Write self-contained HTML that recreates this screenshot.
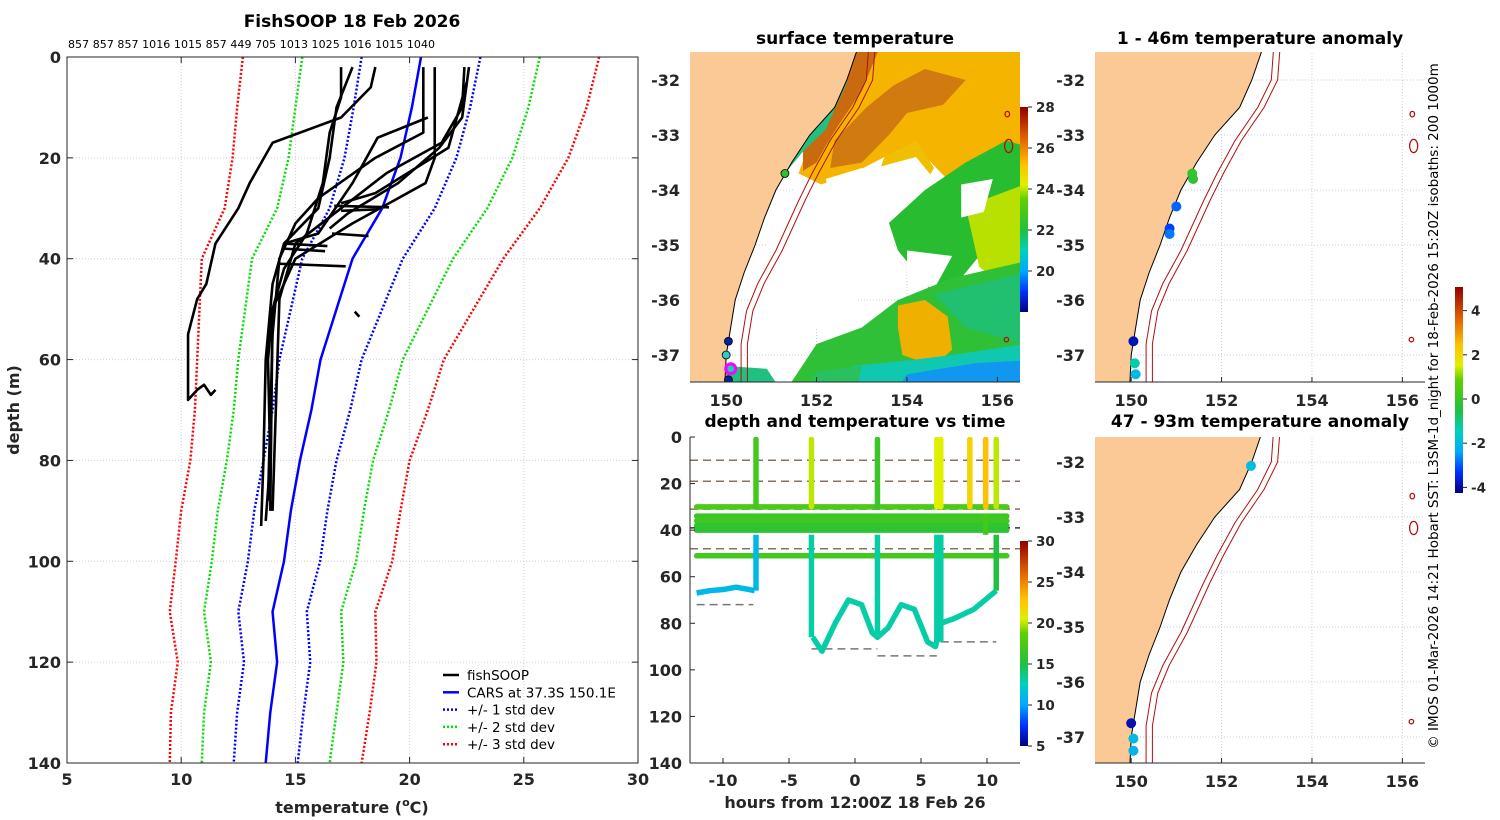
<!DOCTYPE html>
<html><head><meta charset="utf-8">
<style>
html,body{margin:0;padding:0;background:#fff;}
svg{display:block;font-family:"DejaVu Sans","Liberation Sans",sans-serif;}
.tk{font-size:16px;font-weight:bold;fill:#262626;}
.tt{font-size:17px;font-weight:bold;fill:#000;}
</style></head>
<body>
<svg id="fig" width="1500" height="820" viewBox="0 0 1500 820" xmlns="http://www.w3.org/2000/svg">
<defs>
<clipPath id="clipP"><rect x="67" y="57" width="571" height="706"/></clipPath>
<clipPath id="clipM1"><rect x="690" y="52" width="330" height="330"/></clipPath>
<clipPath id="clipM2"><rect x="1095" y="52" width="330" height="330"/></clipPath>
<clipPath id="clipM3"><rect x="1095" y="437" width="330" height="326"/></clipPath>
<clipPath id="clipT"><rect x="690" y="437" width="330" height="326"/></clipPath>
<linearGradient id="jetV" x1="0" y1="1" x2="0" y2="0">
<stop offset="0" stop-color="#00007f"/><stop offset="0.1" stop-color="#0030ff"/><stop offset="0.2" stop-color="#00a8ff"/><stop offset="0.3" stop-color="#00d0c0"/><stop offset="0.4" stop-color="#20c040"/><stop offset="0.55" stop-color="#60d000"/><stop offset="0.62" stop-color="#e0f000"/><stop offset="0.72" stop-color="#ffc000"/><stop offset="0.85" stop-color="#e06000"/><stop offset="1" stop-color="#900000"/>
</linearGradient>
</defs>
<g id="g"></g>
</svg>
<script>
// ===== profile chart data =====
const cDepth=[0,10,20,30,40,50,60,70,80,90,100,110,120,130,140];
const cTemp=[20.5,20.1,19.6,18.8,17.5,16.8,16.1,15.7,15.2,14.8,14.5,14.0,14.2,13.9,13.7];
const cSd=[2.6,2.55,2.45,2.3,2.2,2.0,1.8,1.7,1.6,1.6,1.58,1.5,1.45,1.45,1.4];
const xTicks=[5,10,15,20,25,30];
const yTicks=[0,20,40,60,80,100,120,140];
const topLabels="857 857 857 1016 1015 857 449 705 1013 1025 1016 1015 1040";
const profiles=[
 [[18.5,2],[18.3,6],[17.0,12],[14.0,17],[13.0,25],[12.5,30],[11.5,37],[11.1,45],[10.7,48],[10.3,55],[10.3,68],[10.7,66],[11.0,65],[11.3,67],[11.5,66]],
 [[17.0,2],[17.0,8],[16.5,15],[16.2,25],[15.5,35],[14.5,42],[14.0,50],[13.8,60],[13.9,80],[13.7,92]],
 [[17.5,2],[16.8,10],[16.5,20],[16.0,30],[14.5,37],[14.0,45],[13.7,60],[13.6,80],[13.5,93]],
 [[20.6,2],[20.6,15],[18.5,20],[16.0,28],[15.0,33],[14.3,40],[14.0,55],[13.8,88]],
 [[21.1,2],[21.1,20],[20.7,25],[17.5,33],[15.0,40],[14.0,50],[13.9,90]],
 [[22.4,2],[22.3,10],[21.4,17],[19.0,23],[17.0,30],[15.0,37],[14.3,48],[14.0,90]],
 [[22.6,2],[22.3,12],[21.3,18],[19.5,25],[17.3,31],[16.5,34]],
 [[22.5,5],[21.7,18],[18.5,27],[17.0,29]],
 [[20.8,12],[18.6,16],[17.5,25],[16.0,35],[14.5,37]],
 [[16.7,29.5],[19.1,29.8]],[[17.0,30.5],[18.6,30.2]],[[16.6,35],[18.2,35.5]],[[14.5,37],[16.4,37.5]],[[14.5,38],[16.3,38.5]],[[14.3,41],[17.2,41.5]],[[17.6,50.5],[17.8,51.5]]
];
// ===== time-depth chart data =====
const tXT=[-10,-5,0,5,10], tYT=[0,20,40,60,80,100,120,140];
const horizTracks=[[30,17.5],[34,16.5],[36,16.8],[38,16],[40,15.8],[51,17]];
const casts=[[-7.5,17,11],[-3.3,20,13],[1.7,16.5,13],[6.2,20.5,13],[6.5,20.5,13],[8.7,22,17],[9.9,23,17],[10.7,20,15]];
const castBottoms=[66,86,86,88,88,30,33,66];
const bottomTime=[-3.2,-2.5,-1.5,-0.5,0.5,1.3,1.7,2.5,3.5,4.5,5.5,6.1,6.5,7.5,9,10.7];
const bottomDepth=[86,92,80,70,72,84,86,82,72,74,88,90,80,78,74,66];
const shallowTime=[-12,-11,-10,-9,-8,-7.6];
const shallowDepth=[67,66,65.5,64.5,65.5,66];
const dashDepths=[10,19,31,39,48];
const dashShort=[[-12,-7.7,72],[-3.3,1.7,91],[1.7,6.2,94],[6.5,10.7,88]];
// ===== map data =====
const coast=[[152.9,-31.45],[152.67,-32],[152.4,-32.5],[151.85,-33],[151.45,-33.5],[151.1,-34],[150.85,-34.5],[150.64,-35],[150.4,-35.5],[150.2,-36],[150.1,-36.5],[150.0,-37],[149.97,-37.55]];
const iso200=[[153.15,-31.45],[153.1,-32],[152.8,-32.5],[152.3,-33.1],[151.9,-33.7],[151.6,-34.2],[151.1,-35.1],[150.7,-35.7],[150.45,-36.2],[150.33,-36.8],[150.33,-37.55]];
const dots1=[[151.35,-33.7,0.5],[151.37,-33.8,0.4],[151.0,-34.3,-3.2],[150.85,-34.7,-3.6],[150.85,-34.8,-3.0],[150.05,-36.75,-4.5],[150.08,-37.15,-1.0],[150.1,-37.35,-2.0]];
const dots2=[[152.65,-32.07,-1.8],[150.0,-36.75,-4.5],[150.05,-37.03,-1.9],[150.05,-37.25,-2.1]];
const sstMarkers=[[151.3,-33.7,"#30c030"],[150.05,-36.75,"#0820a0"],[150.0,-37.0,"#30c8c8"],[150.1,-37.25,"#20c8c8"],[150.05,-37.45,"#0820a0"]];

const NS="http://www.w3.org/2000/svg";
const G=document.getElementById('g');
function el(tag,attrs,parent,text){const e=document.createElementNS(NS,tag);for(const k in attrs)e.setAttribute(k,attrs[k]);if(text!==undefined)e.textContent=text;(parent||G).appendChild(e);return e;}
function jet(v){
 const st=[[0,[0,0,127]],[0.1,[0,48,255]],[0.2,[0,168,255]],[0.3,[0,208,192]],[0.4,[32,192,64]],[0.55,[96,208,0]],[0.62,[224,240,0]],[0.72,[255,192,0]],[0.85,[224,96,0]],[1,[144,0,0]]];
 v=Math.max(0,Math.min(1,v));
 for(let i=1;i<st.length;i++){if(v<=st[i][0]){const a=st[i-1],b=st[i];const f=(v-a[0])/(b[0]-a[0]);const c=a[1].map((x,j)=>Math.round(x+(b[1][j]-x)*f));return `rgb(${c})`;}}
 return 'rgb(144,0,0)';
}
// ---------- left profile chart ----------
const px=t=>67+(t-5)*571/25, py=d=>57+d*706/140;
for(const t of xTicks){const g=el('line',{x1:px(t),x2:px(t),y1:57,y2:763,stroke:'#c8d0f0','stroke-width':1,'stroke-dasharray':'1,2'});}
for(const d of yTicks){const g=el('line',{x1:67,x2:638,y1:py(d),y2:py(d),stroke:'#d8c8e0','stroke-width':1,'stroke-dasharray':'1,2'});}
const pg=el('g',{'clip-path':'url(#clipP)'});

function pline(pts,stroke,w,dash,name){const p=el('polyline',{points:pts.map(q=>px(q[0])+','+py(q[1])).join(' '),fill:'none',stroke:stroke,'stroke-width':w,'stroke-dasharray':dash||'none','stroke-linejoin':'round'},pg);}
[[3,'#ff0000','std3'],[2,'#00e000','std2'],[1,'#0000ff','std1']].forEach(([k,c,n])=>{
 pline(cDepth.map((d,i)=>[cTemp[i]-k*cSd[i],d]),c,2.5,'2,2',n+'-lower');
 pline(cDepth.map((d,i)=>[cTemp[i]+k*cSd[i],d]),c,2.5,'2,2',n+'-upper');
});
pline(cDepth.map((d,i)=>[cTemp[i],d]),'#0000ff',2.5,null,'cars-profile');
profiles.forEach((p,i)=>pline(p,'#000',2.6,null,'fishsoop-profile'));
el('rect',{x:67,y:57,width:571,height:706,fill:'none',stroke:'#262626','stroke-width':1});
for(const t of xTicks){el('line',{x1:px(t),x2:px(t),y1:763,y2:757,stroke:'#262626'});el('line',{x1:px(t),x2:px(t),y1:57,y2:63,stroke:'#262626'});const l=el('text',{x:px(t),y:785,'text-anchor':'middle',class:'tk'},G,String(t));}
for(const d of yTicks){el('line',{x1:67,x2:73,y1:py(d),y2:py(d),stroke:'#262626'});el('line',{x1:632,x2:638,y1:py(d),y2:py(d),stroke:'#262626'});const l=el('text',{x:61,y:py(d)+6,'text-anchor':'end',class:'tk'},G,String(d));}
let e=el('text',{x:352,y:27,'text-anchor':'middle',class:'tt'},G,'FishSOOP 18 Feb 2026');
e=el('text',{x:68,y:48,'font-size':'11px',fill:'#000',textLength:367},G,topLabels);
e=el('text',{x:352,y:813,'text-anchor':'middle',class:'tk','font-size':'17px'},G,'');
e.innerHTML='temperature (<tspan dy="-7" font-size="11px">o</tspan><tspan dy="7">C)</tspan>';
e=el('text',{x:0,y:0,transform:'translate(19,410) rotate(-90)','text-anchor':'middle',class:'tk','font-size':'17px'},G,'depth (m)');
const lg=el('g',{});
[['fishSOOP','#000',null],['CARS at 37.3S 150.1E','#0000ff',null],['+/- 1 std dev','#0000ff','2,2'],['+/- 2 std dev','#00e000','2,2'],['+/- 3 std dev','#ff0000','2,2']].forEach((it,i)=>{
 const y=675+i*17.3;const en=el('g',{},lg);
 el('line',{x1:443,x2:459,y1:y,y2:y,stroke:it[1],'stroke-width':2.5,'stroke-dasharray':it[2]||'none'},en);
 el('text',{x:467,y:y+5,'font-size':'13.5px',fill:'#000'},en,it[0]);
});
// ---------- maps ----------
function makeMap(ox,oy){return {X:lon=>ox+690+(lon-149.2)*45.2, Y:lat=>oy+80+(-32-lat)*55};}
const M1=makeMap(0,0), M2=makeMap(405,0), M3=makeMap(405,382);
function poly(M,pts,fill,stroke,parent,closed=true){return el(closed?'polygon':'polyline',{points:pts.map(p=>M.X(p[0]).toFixed(1)+','+M.Y(p[1]).toFixed(1)).join(' '),fill:fill,stroke:stroke||'none','stroke-width':1},parent);}
function drawMapBase(M,g){
 [150,152,154,156].forEach(l=>el('line',{x1:M.X(l),x2:M.X(l),y1:M.Y(-31.4),y2:M.Y(-37.6),stroke:'#c8cce8','stroke-dasharray':'1,2'},g));
 [-32,-33,-34,-35,-36,-37].forEach(l=>el('line',{x1:M.X(149),x2:M.X(156.6),y1:M.Y(l),y2:M.Y(l),stroke:'#c8cce8','stroke-dasharray':'1,2'},g));
}
function drawLand(M,g){
 const land=poly(M,[[148,-31.3]].concat(coast,[[148,-37.7]]),'#fbc995','#000',g);
 const iso=poly(M,iso200,'none','#b01010',g,false);
 const iso2=poly(M,iso200.map(p=>[p[0]+0.14,p[1]]),'none','#b01010',g,false);
 [[156.22,-32.62,0.05,0.05],[156.25,-33.2,0.09,0.12],[156.2,-36.72,0.05,0.04]].forEach(s=>{const c=el('ellipse',{cx:M.X(s[0]),cy:M.Y(s[1]),rx:s[2]*45,ry:s[3]*55,fill:'none',stroke:'#b01010','stroke-width':1.3},g);});
}
function mapAxes(M,x0,y0,y1){
 el('line',{x1:x0,x2:x0+330,y1:y1,y2:y1,stroke:'#262626'});
 [150,152,154,156].forEach(l=>{el('line',{x1:M.X(l),x2:M.X(l),y1:y1,y2:y1-5,stroke:'#262626'});const t=el('text',{x:M.X(l),y:y1+24,'text-anchor':'middle',class:'tk'},G,String(l));});
 [-32,-33,-34,-35,-36,-37].forEach(l=>{const t=el('text',{x:x0-10,y:M.Y(l)+6,'text-anchor':'end',class:'tk'},G,String(l));});
}
const g1=el('g',{'clip-path':'url(#clipM1)'});
drawMapBase(M1,g1);
const sstPolys=[
 [[[152.7,-31.4],[156.6,-31.4],[156.6,-35.3],[155.5,-34.6],[155,-33.9],[154.3,-33.3],[153.5,-33.4],[152.8,-33.7],[152.1,-33.9],[151.6,-33.7],[152.0,-32.8]],'#f5b400'],
 [[[153.5,-33.4],[154.2,-33.1],[154.6,-33.6],[154.1,-34.3],[153.2,-34.1]],'#f0c000'],
 [[[152.2,-33.8],[153.0,-33.6],[153.3,-34.0],[152.9,-34.5],[152.4,-34.3]],'#fff'],
 [[[152.85,-31.4],[153.4,-31.4],[153.0,-32.2],[152.5,-32.8],[152.2,-33.2],[152.0,-33.5],[151.7,-33.65],[151.7,-33.2],[152.2,-32.6],[152.6,-32.0]],'#c96a10'],
 [[[153.1,-32.5],[153.7,-32.1],[154.4,-31.8],[155.3,-32.0],[154.8,-32.45],[154.0,-32.6],[153.6,-33.0],[153.0,-33.5],[152.3,-33.6],[152.4,-33.1]],'#d07a10'],
 [[[151.6,-33.7],[152.1,-33.9],[152.8,-33.8],[153.3,-33.6],[154.2,-33.4],[154.6,-33.8],[154.3,-34.5],[153.8,-34.8],[153.5,-35.5],[152.5,-36.3],[151.8,-36.6],[151.0,-36.6],[150.5,-36.4],[150.6,-35.6],[151.0,-34.8],[151.4,-34.2]],'#ffffff'],
 [[[154.4,-34.0],[155.3,-33.5],[156.2,-33.1],[156.6,-33.2],[156.6,-34.0],[155.8,-35.0],[155.2,-35.6],[154.5,-35.8],[153.8,-35.1],[153.6,-34.6]],'#28bc30'],
 [[[155.3,-34.3],[156.6,-33.9],[156.6,-36.0],[155.6,-35.4]],'#b8e000'],
 [[[155.2,-33.9],[155.9,-33.8],[155.7,-34.4],[155.2,-34.5]],'#ffffff'],
 [[[154.0,-35.1],[155.0,-35.2],[154.6,-35.8],[154.0,-35.6]],'#ffffff'],
 [[[151.4,-37.55],[152.0,-36.8],[153.0,-36.5],[153.8,-36.0],[155,-35.6],[156.6,-35.3],[156.6,-37.6]],'#30c038'],
 [[[154.6,-35.9],[156.6,-35.5],[156.6,-36.8],[155.3,-36.5]],'#20c070'],
 [[[153.8,-36.1],[154.4,-36.0],[154.9,-36.3],[155.0,-36.9],[154.6,-37.2],[153.9,-37.0],[153.8,-36.5]],'#f0b000'],
 [[[152.8,-37.2],[154.0,-37.1],[155,-37.0],[156.6,-36.8],[156.6,-37.6],[152.6,-37.6]],'#10c8b0'],
 [[[154.0,-37.35],[155.5,-37.15],[156.6,-37.1],[156.6,-37.6],[153.8,-37.6]],'#1098f0'],
 [[[152.0,-37.3],[153.0,-37.2],[152.9,-37.6],[151.8,-37.6]],'#28c060'],
 [[[150.0,-37.2],[150.9,-37.25],[151.1,-37.5],[150.0,-37.6]],'#20c080'],
 [[[152.4,-32.3],[152.7,-32.0],[152.2,-32.9],[151.7,-33.3],[151.3,-33.7],[151.3,-33.5],[151.8,-33.0]],'#20c080']
];
sstPolys.forEach(p=>{const q=poly(M1,p[0],p[1],null,g1);});
drawLand(M1,g1);
sstMarkers.forEach((m,i)=>{const c=el('circle',{cx:M1.X(m[0]),cy:M1.Y(m[1]),r:4,fill:m[2],stroke:'#000','stroke-width':0.8},g1);});
e=el('circle',{cx:M1.X(150.1),cy:M1.Y(-37.25),r:5,fill:'none',stroke:'#ff00ff','stroke-width':3},g1);
mapAxes(M1,690,52,382);
e=el('text',{x:855,y:44,'text-anchor':'middle',class:'tt'},G,'surface temperature');
e=el('rect',{x:1020,y:107,width:8,height:205,fill:'url(#jetV)'});
[28,26,24,22,20].forEach(v=>{const y=107+(28-v)*20.5;el('line',{x1:1028,x2:1032,y1:y,y2:y,stroke:'#262626'});const t=el('text',{x:1036,y:y+5,'font-size':'13.5px','font-weight':'bold',fill:'#262626'},G,String(v));});
function anomMap(M,clip,dots,title,ty,x0,y0,y1,name){
 const g=el('g',{'clip-path':'url('+clip+')'});
 drawMapBase(M,g);drawLand(M,g);
 dots.forEach(d=>{const c=el('circle',{cx:M.X(d[0]),cy:M.Y(d[1]),r:5,fill:jet((d[2]+5)/10*0.8)},g);});
 mapAxes(M,x0,y0,y1);
 const t=el('text',{x:1260,y:ty,'text-anchor':'middle',class:'tt'},G,title);
}
anomMap(M2,'#clipM2',dots1,'1 - 46m temperature anomaly',44,1095,52,382,'anomaly-map-shallow');
anomMap(M3,'#clipM3',dots2,'47 - 93m temperature anomaly',427,1095,437,763,'anomaly-map-deep');
e=el('rect',{x:1455,y:287,width:8,height:206,fill:'url(#jetV)'});
[4,2,0,-2,-4].forEach(v=>{const y=399-v*22.1;el('line',{x1:1463,x2:1467,y1:y,y2:y,stroke:'#262626'});const t=el('text',{x:1471,y:y+5,'font-size':'13.5px','font-weight':'bold',fill:'#262626'},G,String(v));});
e=el('text',{x:0,y:0,transform:'translate(1438,406) rotate(-90)','text-anchor':'middle','font-size':'13.5px',fill:'#000'},G,'© IMOS 01-Mar-2026 14:21 Hobart SST: L3SM-1d_night for 18-Feb-2026 15:20Z isobaths: 200  1000m');
// ---------- time-depth chart ----------
const tx=h=>855+h*13.2, ty=d=>437+d*326/140;
const gt=el('g',{'clip-path':'url(#clipT)'});
dashDepths.forEach((d,i)=>{const l=el('line',{x1:690,x2:1020,y1:ty(d),y2:ty(d),stroke:i==3?'#333':'#8a7060','stroke-width':1.5,'stroke-dasharray':'8,5'},gt);});
dashShort.forEach(s=>{const l=el('line',{x1:tx(s[0]),x2:tx(s[1]),y1:ty(s[2]),y2:ty(s[2]),stroke:'#777','stroke-width':1.5,'stroke-dasharray':'8,5'},gt);});
const TW=5.5;
horizTracks.forEach(h=>{const l=el('line',{x1:tx(-12),x2:tx(11.5),y1:ty(h[0]),y2:ty(h[0]),stroke:jet((h[1]-5)/25),'stroke-width':TW,'stroke-linecap':'round'},gt);});
e=el('polyline',{points:shallowTime.map((t,i)=>tx(t)+','+ty(shallowDepth[i])).join(' '),fill:'none',stroke:jet((11-5)/25),'stroke-width':TW,'stroke-linejoin':'round'},gt);
e=el('polyline',{points:bottomTime.map((t,i)=>tx(t)+','+ty(bottomDepth[i])).join(' '),fill:'none',stroke:jet((13-5)/25),'stroke-width':TW,'stroke-linejoin':'round'},gt);
casts.forEach((c,i)=>{const x=tx(c[0]);const b=castBottoms[i];
 const a=el('line',{x1:x,x2:x,y1:ty(1),y2:ty(30),stroke:jet((c[1]-5)/25),'stroke-width':TW,'stroke-linecap':'round'},gt);
 if(b>30){const l=el('line',{x1:x,x2:x,y1:ty(42),y2:ty(b),stroke:jet((c[2]-5)/25),'stroke-width':TW},gt);}
});
el('line',{x1:690,x2:690,y1:437,y2:763,stroke:'#262626'});el('line',{x1:690,x2:1020,y1:763,y2:763,stroke:'#262626'});
tXT.forEach(t=>{el('line',{x1:tx(t),x2:tx(t),y1:763,y2:758,stroke:'#262626'});const l=el('text',{x:tx(t),y:786,'text-anchor':'middle',class:'tk'},G,String(t));});
tYT.forEach(d=>{el('line',{x1:690,x2:695,y1:ty(d),y2:ty(d),stroke:'#262626'});const l=el('text',{x:682,y:ty(d)+6,'text-anchor':'end',class:'tk'},G,String(d));});
e=el('text',{x:855,y:427,'text-anchor':'middle',class:'tt'},G,'depth and temperature vs time');
e=el('text',{x:855,y:808,'text-anchor':'middle',class:'tk','font-size':'17px'},G,'hours from 12:00Z 18 Feb 26');
e=el('rect',{x:1020,y:541,width:8,height:205,fill:'url(#jetV)'});
[30,25,20,15,10,5].forEach(v=>{const y=541+(30-v)*8.2;el('line',{x1:1028,x2:1032,y1:y,y2:y,stroke:'#262626'});const t=el('text',{x:1036,y:y+5,'font-size':'13.5px','font-weight':'bold',fill:'#262626'},G,String(v));});
</script>
</body></html>
